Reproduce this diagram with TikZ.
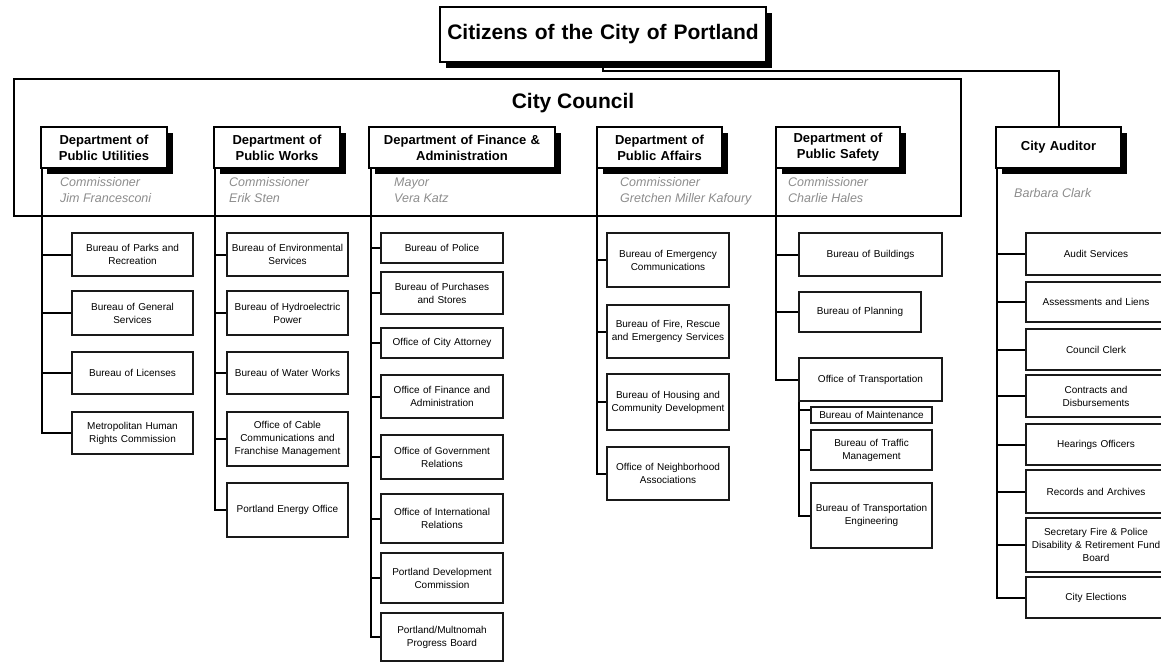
\documentclass[tikz,border=0pt]{standalone}
\usepackage{fontspec}
\setmainfont{Liberation Sans}
\usetikzlibrary{shadows}
\newcommand\orgbox[7][childbox]{%
  \pgfmathsetmacro\obw{#5-#3}\pgfmathsetmacro\obh{#6-#4}%
  \pgfmathsetmacro\obtw{#5-#3-3}%
  \pgfmathsetmacro\obx{(#3+#5)/2}\pgfmathsetmacro\oby{(#4+#6)/2}%
  \node[#1, minimum width=\obw pt, minimum height=\obh pt, text width=\obtw pt] (#2) at (\obx,\oby) {#7};}
\begin{document}
\begin{tikzpicture}[x=1pt,y=-1pt,
  every node/.style={inner sep=0pt},
  frame/.style={draw=black, line width=2pt},
  shad/.style={drop shadow={opacity=1,fill=black,shadow xshift=6pt,shadow yshift=-6pt}},
  citbox/.style={frame, fill=white, shad, align=center, font=\bfseries\fontsize{21}{25}\selectfont},
  deptbox/.style={frame, fill=white, shad, align=center, font=\bfseries\fontsize{13}{16}\selectfont},
  childbox/.style={draw=black!90, line width=1.8pt, fill=white, align=center, font=\fontsize{10}{13}\selectfont},
  commtext/.style={text=black!45, font=\itshape\fontsize{12.5}{16}\selectfont, anchor=base west},
  conn/.style={draw=black, line width=2pt},
]
\useasboundingbox (0,0) rectangle (1161,663);
% Citizens
\orgbox[citbox]{cit}{440}{7}{766}{62}{Citizens of the City of Portland}
% City Council frame
\node[frame, minimum width=947pt, minimum height=137pt, anchor=north west] (council) at (13,78) {};
\node[font=\bfseries\fontsize{21}{25}\selectfont] (counciltitle) at (573,103) {City Council};
% Departments
\orgbox[deptbox]{pu}{41}{127}{167}{168}{Department of\\Public Utilities}
\orgbox[deptbox]{pw}{214}{127}{340}{168}{Department of\\Public Works}
\orgbox[deptbox]{pf}{369}{127}{555}{168}{Department of Finance \&\\Administration}
\orgbox[deptbox]{pa}{597}{127}{722}{168}{Department of\\Public Affairs}
\orgbox[deptbox]{ps}{776}{127}{900}{168}{Department of\\Public Safety}
\orgbox[deptbox]{aud}{996}{127}{1121}{168}{City Auditor}
% Commissioners
\node[commtext] (puc1) at (60,186) {Commissioner};
\node[commtext] (puc2) at (60,202) {Jim Francesconi};
\node[commtext] (pwc1) at (229,186) {Commissioner};
\node[commtext] (pwc2) at (229,202) {Erik Sten};
\node[commtext] (pfc1) at (394,186) {Mayor};
\node[commtext] (pfc2) at (394,202) {Vera Katz};
\node[commtext] (pac1) at (620,186) {Commissioner};
\node[commtext] (pac2) at (620,202) {Gretchen Miller Kafoury};
\node[commtext] (psc1) at (788,186) {Commissioner};
\node[commtext] (psc2) at (788,202) {Charlie Hales};
\node[commtext] (audc) at (1014,197) {Barbara Clark};
% Public Utilities
\orgbox{pu1}{72}{233}{193}{276}{Bureau of Parks and\\Recreation}
\orgbox{pu2}{72}{291}{193}{335}{Bureau of General\\Services}
\orgbox{pu3}{72}{352}{193}{394}{Bureau of Licenses}
\orgbox{pu4}{72}{412}{193}{454}{Metropolitan Human\\Rights Commission}
% Public Works
\orgbox{pw1}{227}{233}{348}{276}{Bureau of Environmental\\Services}
\orgbox{pw2}{227}{291}{348}{335}{Bureau of Hydroelectric\\Power}
\orgbox{pw3}{227}{352}{348}{394}{Bureau of Water Works}
\orgbox{pw4}{227}{412}{348}{466}{Office of Cable\\Communications and\\Franchise Management}
\orgbox{pw5}{227}{483}{348}{537}{Portland Energy Office}
% Finance & Administration
\orgbox{pf1}{381}{233}{503}{263}{Bureau of Police}
\orgbox{pf2}{381}{272}{503}{314}{Bureau of Purchases\\and Stores}
\orgbox{pf3}{381}{328}{503}{358}{Office of City Attorney}
\orgbox{pf4}{381}{375}{503}{418}{Office of Finance and\\Administration}
\orgbox{pf5}{381}{435}{503}{479}{Office of Government\\Relations}
\orgbox{pf6}{381}{494}{503}{543}{Office of International\\Relations}
\orgbox{pf7}{381}{553}{503}{603}{Portland Development\\Commission}
\orgbox{pf8}{381}{613}{503}{661}{Portland/Multnomah\\Progress Board}
% Public Affairs
\orgbox{pa1}{607}{233}{729}{287}{Bureau of Emergency\\Communications}
\orgbox{pa2}{607}{305}{729}{358}{Bureau of Fire, Rescue\\and Emergency Services}
\orgbox{pa3}{607}{374}{729}{430}{Bureau of Housing and\\Community Development}
\orgbox{pa4}{607}{447}{729}{500}{Office of Neighborhood\\Associations}
% Public Safety
\orgbox{ps1}{799}{233}{942}{276}{Bureau of Buildings}
\orgbox{ps2}{799}{292}{921}{332}{Bureau of Planning}
\orgbox{ps3}{799}{358}{942}{401}{Office of Transportation}
\orgbox{tr1}{811}{407}{932}{423}{Bureau of Maintenance}
\orgbox{tr2}{811}{430}{932}{470}{Bureau of Traffic\\Management}
\orgbox{tr3}{811}{483}{932}{548}{Bureau of Transportation\\Engineering}
% City Auditor
\orgbox{au1}{1026}{233}{1166}{275}{Audit Services}
\orgbox{au2}{1026}{282}{1166}{322}{Assessments and Liens}
\orgbox{au3}{1026}{329}{1166}{370}{Council Clerk}
\orgbox{au4}{1026}{375}{1166}{417}{Contracts and\\Disbursements}
\orgbox{au5}{1026}{424}{1166}{465}{Hearings Officers}
\orgbox{au6}{1026}{470}{1166}{513}{Records and Archives}
\orgbox{au7}{1026}{518}{1166}{572}{Secretary Fire \& Police\\Disability \& Retirement Fund\\Board}
\orgbox{au8}{1026}{577}{1166}{618}{City Elections}
% Connectors
\draw[conn] (cit.south) -- ++(0,8) -| (aud.north);
\foreach \c in {pu1,pu2,pu3,pu4} \draw[conn] ([xshift=2pt]pu.south west) |- (\c.west);
\foreach \c in {pw1,pw2,pw3,pw4,pw5} \draw[conn] ([xshift=2pt]pw.south west) |- (\c.west);
\foreach \c in {pf1,pf2,pf3,pf4,pf5,pf6,pf7,pf8} \draw[conn] ([xshift=3pt]pf.south west) |- (\c.west);
\foreach \c in {pa1,pa2,pa3,pa4} \draw[conn] ([xshift=1pt]pa.south west) |- (\c.west);
\foreach \c in {ps1,ps2,ps3} \draw[conn] ([xshift=1pt]ps.south west) |- (\c.west);
\draw[conn] ([xshift=1pt]ps3.south west) |- ([yshift=5pt]tr1.west);
\foreach \c in {tr2,tr3} \draw[conn] ([xshift=1pt]ps3.south west) |- (\c.west);
\foreach \c in {au1,au2,au3,au4,au5,au6,au7,au8} \draw[conn] ([xshift=2pt]aud.south west) |- (\c.west);
\end{tikzpicture}
\end{document}
